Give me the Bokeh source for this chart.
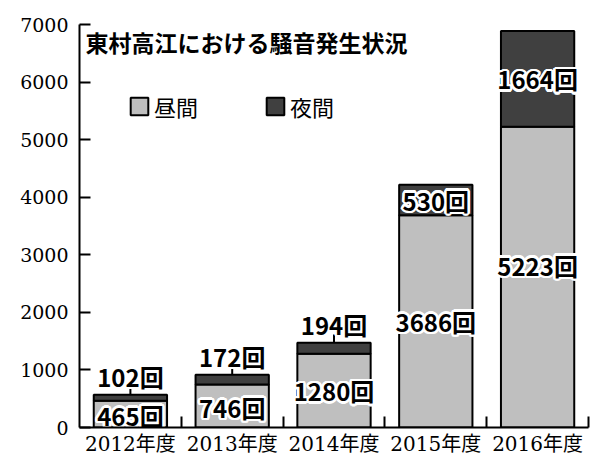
from bokeh.plotting import figure
from bokeh.models import ColumnDataSource, FixedTicker, Range1d, Legend, LegendItem
from bokeh.core.properties import value
from bokeh.embed import file_html
from bokeh.resources import INLINE
import math

# ---- data ----
years = ["2012年度", "2013年度", "2014年度", "2015年度", "2016年度"]
day = [465, 746, 1280, 3686, 5223]
night = [102, 172, 194, 530, 1664]
y_ticks = [0, 1000, 2000, 3000, 4000, 5000, 6000, 7000]
title_text = "東村高江における騒音発生状況"
legend_labels = ["昼間", "夜間"]

# ---- layout helpers (positions, not data) ----
day_label_frac = [0.45, 0.47, 0.5, 0.5, 0.54]
night_inside = [False, False, False, True, True]
above_offset = 320
leader_len = 140

LIGHT = "#bfbfbf"
DARK = "#404040"
SANS = "'Noto Sans CJK JP', sans-serif"
SERIF = "'DejaVu Serif', 'Noto Sans CJK JP', serif"

xs = [i + 0.5 for i in range(len(years))]
tops = [d + n for d, n in zip(day, night)]

src = ColumnDataSource(dict(x=xs, day=day, night=night))

p = figure(width=604, height=460, output_backend="svg", toolbar_location=None,
           x_range=Range1d(0, 5), y_range=Range1d(0, 7000),
           min_border_left=79, min_border_right=16, min_border_top=24, min_border_bottom=33)
p.outline_line_color = None
p.xgrid.grid_line_color = None
p.ygrid.grid_line_color = None
p.background_fill_color = "white"

renderers = p.vbar_stack(["day", "night"], x="x", width=0.72, color=[LIGHT, DARK],
                         line_color="black", line_width=2, source=src)

# axes
ya = p.yaxis[0]
ya.ticker = FixedTicker(ticks=y_ticks)
ya.major_tick_in = 11
ya.major_tick_out = 0
ya.minor_tick_line_color = None
ya.axis_line_width = 2
ya.major_tick_line_width = 2
ya.major_label_standoff = 11
ya.major_label_text_font = SERIF
ya.major_label_text_font_size = "19px"
ya.major_label_text_color = "black"

xa = p.xaxis[0]
xa.ticker = FixedTicker(ticks=xs, minor_ticks=[1, 2, 3, 4, 5])
xa.major_label_overrides = {x: y for x, y in zip(xs, years)}
xa.major_tick_in = 0
xa.major_tick_out = 0
xa.minor_tick_in = 11
xa.minor_tick_out = 0
xa.minor_tick_line_width = 2
xa.axis_line_width = 2
xa.major_label_standoff = 4
xa.major_label_text_font = SERIF
xa.major_label_text_font_size = "20px"
xa.major_label_text_color = "black"

# leader lines for labels above bars
lx, ly0, ly1 = [], [], []
for i, inside in enumerate(night_inside):
    if not inside:
        lx.append(xs[i]); ly0.append(tops[i]); ly1.append(tops[i] + leader_len)
p.segment(x0=lx, y0=ly0, x1=lx, y1=ly1, line_color="black", line_width=2)

# value labels
lab_x, lab_y, lab_t = [], [], []
for i in range(len(years)):
    lab_x.append(xs[i]); lab_y.append(day[i] * day_label_frac[i]); lab_t.append(f"{day[i]}回")
    if night_inside[i]:
        ny = day[i] + night[i] / 2
    else:
        ny = tops[i] + above_offset
    lab_x.append(xs[i]); lab_y.append(ny); lab_t.append(f"{night[i]}回")
lsrc = ColumnDataSource(dict(x=lab_x, y=lab_y, t=lab_t))

r = 2.5
for k in range(16):
    a = 2 * math.pi * k / 16
    p.text(x="x", y="y", text="t", source=lsrc, text_color="white",
           text_font=value(SANS), text_font_style="bold", text_font_size="24px",
           text_align="center", text_baseline="middle",
           x_offset=r * math.cos(a), y_offset=r * math.sin(a))
p.text(x="x", y="y", text="t", source=lsrc, text_color="black",
       text_font=value(SANS), text_font_style="bold", text_font_size="24px",
       text_align="center", text_baseline="middle")

# title
p.text(x=[0.06], y=[6690], text=[title_text], text_color="black",
       text_font=value(SANS), text_font_style="bold", text_font_size="23px",
       text_align="left", text_baseline="middle")

# legend
legend = Legend(items=[LegendItem(label=legend_labels[0], renderers=[renderers[0]]),
                       LegendItem(label=legend_labels[1], renderers=[renderers[1]])],
                orientation="horizontal", location=(49, 305),
                glyph_width=22, glyph_height=22, label_height=22, label_standoff=4,
                spacing=66, padding=0, margin=0,
                border_line_color=None, background_fill_alpha=0,
                label_text_font=SANS, label_text_font_size="22px",
                label_text_color="black")
p.add_layout(legend)

open("out.html", "w").write(file_html(p, INLINE))
